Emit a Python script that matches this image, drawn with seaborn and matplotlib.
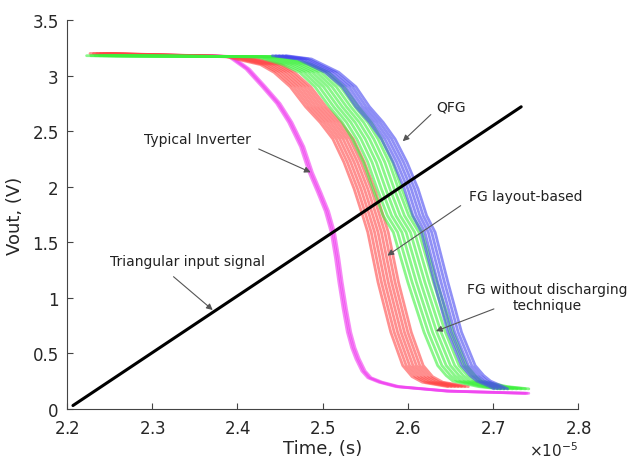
import matplotlib
matplotlib.use("Agg")
import matplotlib.pyplot as plt
import numpy as np
import pandas as pd
import seaborn as sns

# time in units of 1e-5 s
inv_t = [2.24, 2.37, 2.392, 2.412, 2.431, 2.448, 2.462, 2.476, 2.486, 2.496, 2.505, 2.512, 2.517, 2.521, 2.526, 2.531, 2.536, 2.541, 2.548, 2.555, 2.568, 2.588, 2.647, 2.74]
inv_v = [3.19, 3.18, 3.17, 3.06, 2.90, 2.75, 2.58, 2.36, 2.13, 1.95, 1.78, 1.59, 1.36, 1.14, 0.90, 0.69, 0.55, 0.45, 0.34, 0.28, 0.24, 0.20, 0.16, 0.14]

red_t = [2.24, 2.40, 2.44, 2.456, 2.475, 2.493, 2.51, 2.525, 2.538, 2.55, 2.56, 2.566, 2.578, 2.593, 2.607, 2.618, 2.63, 2.66]
red_v = [3.20, 3.17, 3.10, 3.03, 2.90, 2.72, 2.58, 2.43, 2.22, 1.98, 1.74, 1.59, 1.14, 0.69, 0.39, 0.29, 0.24, 0.20]

grn_t = [2.24, 2.44, 2.47, 2.49, 2.508, 2.525, 2.54, 2.552, 2.565, 2.576, 2.588, 2.60, 2.617, 2.636, 2.652, 2.662, 2.67, 2.70, 2.725]
grn_v = [3.18, 3.17, 3.10, 3.03, 2.90, 2.72, 2.58, 2.43, 2.22, 1.98, 1.74, 1.59, 1.14, 0.69, 0.39, 0.30, 0.25, 0.20, 0.18]

blu_t = [2.45, 2.48, 2.512, 2.532, 2.548, 2.564, 2.578, 2.592, 2.605, 2.615, 2.625, 2.64, 2.656, 2.672, 2.682, 2.69, 2.705, 2.71]
blu_v = [3.18, 3.15, 3.03, 2.90, 2.72, 2.58, 2.43, 2.22, 1.98, 1.74, 1.59, 1.14, 0.69, 0.39, 0.30, 0.25, 0.20, 0.18]

# spread of the Monte Carlo runs around each centre curve (time shift)
inv_shift = [-0.002, 0.0, 0.002]
red_shift = [-0.013, -0.009, -0.005, -0.001, 0.003, 0.007, 0.011]
grn_shift = [-0.017, -0.012, -0.007, -0.002, 0.003, 0.008, 0.013, 0.017]
blu_shift = [-0.009, -0.005, -0.001, 0.003, 0.007]

ramp_t = [2.207, 2.733]
ramp_v = [0.03, 2.72]

ytick_vals = [0, 0.5, 1, 1.5, 2, 2.5, 3, 3.5]
ytick_labels = ["0", "0.5", "1", "1.5", "2", "2.5", "3", "3.5"]
xtick_vals = [2.2, 2.3, 2.4, 2.5, 2.6, 2.7, 2.8]

families = [
    ("inv", inv_t, inv_v, inv_shift),
    ("red", red_t, red_v, red_shift),
    ("grn", grn_t, grn_v, grn_shift),
    ("blu", blu_t, blu_v, blu_shift),
]
rows = []
for name, ts, vs, shifts in families:
    for k, s in enumerate(shifts):
        for t, v in zip(ts, vs):
            rows.append({"family": name, "run": k, "t": (t + s) * 1e-5, "v": v})
df = pd.DataFrame(rows)

palette = {"inv": "#f03cf0", "red": "#ff4646", "grn": "#3cf03c", "blu": "#4646f0"}

sns.set_style("ticks")
plt.rcParams["font.family"] = ["DejaVu Sans"]

fig = plt.figure(figsize=(6.32, 4.6), dpi=100)
ax = fig.add_axes([0.106, 0.109, 0.809, 0.845])

for name in ["inv", "red", "grn", "blu"]:
    sub = df[df["family"] == name]
    sns.lineplot(data=sub, x="t", y="v", units="run", estimator=None,
                 color=palette[name], lw=2.0, alpha=0.6, ax=ax, legend=False)

ax.plot(np.array(ramp_t) * 1e-5, ramp_v, color="black", lw=2.2)

ax.set_xlim(2.2e-5, 2.8e-5)
ax.set_ylim(0, 3.5)
ax.set_xticks(np.array(xtick_vals) * 1e-5)
ax.set_yticks(ytick_vals)
ax.set_yticklabels(ytick_labels)
ax.ticklabel_format(style="sci", axis="x", scilimits=(0, 0), useMathText=True)
ax.xaxis.get_offset_text().set_fontsize(11)
ax.tick_params(direction="in", length=4, labelsize=12, color="#444444")
ax.tick_params(axis="x", pad=7)
ax.tick_params(axis="y", pad=6)
sns.despine(ax=ax)
for sp in ["left", "bottom"]:
    ax.spines[sp].set_color("#444444")

ax.set_xlabel("Time, (s)", fontsize=13, labelpad=2)
ax.set_ylabel("Vout, (V)", fontsize=13, labelpad=6)

arrow = dict(arrowstyle="-|>", color="#555555", lw=0.8, mutation_scale=9,
             shrinkA=0, shrinkB=0)
notes = [
    ("Typical Inverter", (2.353, 2.43), (2.425, 2.34), (2.486, 2.13)),
    ("QFG", (2.651, 2.72), (2.627, 2.65), (2.594, 2.41)),
    ("FG layout-based", (2.738, 1.92), (2.662, 1.83), (2.576, 1.38)),
    ("FG without discharging\ntechnique", (2.764, 1.01), (2.701, 0.90), (2.633, 0.70)),
    ("Triangular input signal", (2.342, 1.33), (2.325, 1.19), (2.371, 0.89)),
]
for label, pos, tail, tip in notes:
    ax.text(pos[0] * 1e-5, pos[1], label, fontsize=10, ha="center", va="center",
            color="#222222", linespacing=1.2)
    ax.annotate("", xy=(tip[0] * 1e-5, tip[1]), xytext=(tail[0] * 1e-5, tail[1]),
                arrowprops=arrow)

fig.savefig("out.png", dpi=100)
